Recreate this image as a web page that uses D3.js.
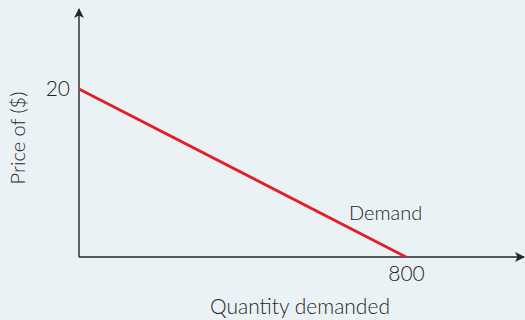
<!DOCTYPE html>
<html>
<head>
<meta charset="utf-8">
<script src="https://cdn.jsdelivr.net/npm/d3@7"></script>
<style>
  html, body { margin: 0; padding: 0; background: #eaf2f5; }
  svg { display: block; }
</style>
</head>
<body>
<div id="chart"></div>
<script>
// demand curve end points (quantity, price)
const quantities = [0, 800];
const prices = [20, 0];
const xTicks = [800];
const yTicks = [20];
const seriesLabel = 'Demand';
const xTitle = 'Quantity demanded';
const yTitle = 'Price of ($)';

const W = 525, H = 320;
const margin = { top: 89, right: 119, bottom: 63, left: 79 };

const svg = d3.select('#chart').append('svg')
  .attr('width', W)
  .attr('height', H);

const x = d3.scaleLinear().domain([0, 800]).range([margin.left, W - margin.right]);
const y = d3.scaleLinear().domain([0, 20]).range([H - margin.bottom, margin.top]);

const axisColor = '#262626';
const font = 'Lato, "Open Sans", sans-serif';

// arrow marker
const defs = svg.append('defs');
defs.append('marker')
  .attr('id', 'arrow')
  .attr('viewBox', '0 0 10 10')
  .attr('refX', 9).attr('refY', 5)
  .attr('markerWidth', 12).attr('markerHeight', 10)
  .attr('markerUnits', 'userSpaceOnUse')
  .attr('orient', 'auto')
  .append('path')
  .attr('d', 'M0,0 L10,5 L0,10 L2.5,5 Z')
  .attr('fill', axisColor);

// axes lines with arrows
svg.append('line')
  .attr('x1', x(0)).attr('y1', y(0))
  .attr('x2', x(0)).attr('y2', 9)
  .attr('stroke', axisColor).attr('stroke-width', 1.4)
  .attr('marker-end', 'url(#arrow)');

svg.append('line')
  .attr('x1', x(0)).attr('y1', y(0))
  .attr('x2', W - 1).attr('y2', y(0))
  .attr('stroke', axisColor).attr('stroke-width', 1.4)
  .attr('marker-end', 'url(#arrow)');

// tick labels via d3 axes (no tick marks)
const yAxis = svg.append('g')
  .attr('transform', `translate(${x(0)},0)`)
  .call(d3.axisLeft(y).tickValues(yTicks).tickSize(0).tickPadding(9));
yAxis.select('.domain').remove();
yAxis.selectAll('text')
  .style('font-family', font).style('font-size', '21px').style('font-weight', 300)
  .style('fill', axisColor);

const xAxis = svg.append('g')
  .attr('transform', `translate(0,${y(0)})`)
  .call(d3.axisBottom(x).tickValues(xTicks).tickSize(0).tickPadding(9));
xAxis.select('.domain').remove();
xAxis.selectAll('text')
  .style('font-family', font).style('font-size', '21px').style('font-weight', 300)
  .style('fill', axisColor);

// demand line
const pts = quantities.map((q, i) => [q, prices[i]]);
svg.append('path')
  .datum(pts)
  .attr('d', d3.line().x(d => x(d[0])).y(d => y(d[1])))
  .attr('fill', 'none')
  .attr('stroke', '#e11f26')
  .attr('stroke-width', 2.8);

// series label
svg.append('text')
  .attr('x', x(0) + 270).attr('y', y(0) - 37)
  .text(seriesLabel)
  .style('font-family', font).style('font-size', '20px').style('font-weight', 300)
  .style('fill', axisColor);

// axis titles
svg.append('text')
  .attr('x', 300).attr('y', 314)
  .attr('text-anchor', 'middle')
  .text(xTitle)
  .style('font-family', font).style('font-size', '21px').style('font-weight', 300)
  .style('fill', axisColor);

svg.append('text')
  .attr('transform', 'translate(25,138) rotate(-90)')
  .attr('text-anchor', 'middle')
  .text(yTitle)
  .style('font-family', font).style('font-size', '20px').style('font-weight', 300)
  .style('fill', axisColor);
</script>
</body>
</html>
